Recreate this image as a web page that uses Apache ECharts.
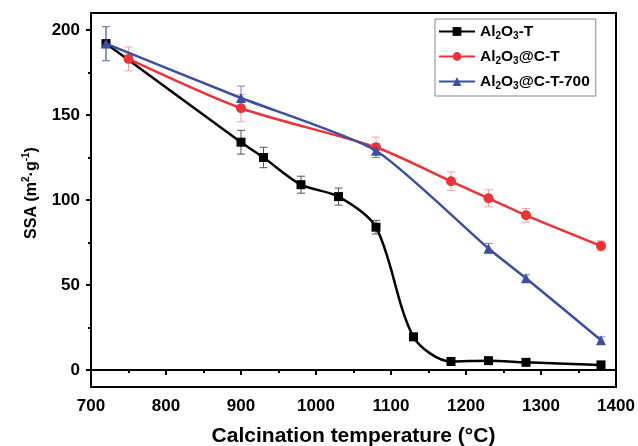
<!DOCTYPE html>
<html><head><meta charset="utf-8">
<script src="https://cdn.jsdelivr.net/npm/echarts@6/dist/echarts.min.js"></script>
<style>html,body{margin:0;padding:0;background:#fff}#c{width:638px;height:446px}</style>
</head><body><div id="c"></div>
<script>
// ---- data ----
const seriesNames = ['Al2O3-T', 'Al2O3@C-T', 'Al2O3@C-T-700'];
const tempT = [720, 900, 930, 980, 1030, 1080, 1130, 1180, 1230, 1280, 1380];
const ssaT = [192, 134, 125, 109, 102, 84, 19.5, 5, 5.5, 4.5, 3];
const errT = [10, 7, 6, 5, 5, 4, 0, 0, 0, 0, 0];
const tempCT = [750, 900, 1080, 1180, 1230, 1280, 1380];
const ssaCT = [183, 154, 131, 111, 101, 91, 73];
const errCT = [7, 8, 6, 5.5, 5, 4, 3];
const tempCT700 = [720, 900, 1080, 1230, 1280, 1380];
const ssaCT700 = [192, 160, 129, 71.5, 54, 17.5];
const errCT700 = [10, 7, 4, 3, 2, 2];
const yMajor = [0, 50, 100, 150, 200];
const yMinor = [25, 75, 125, 175];

const F = '"Liberation Sans", Arial, Helvetica, sans-serif';
const colors = ['#000000', '#ec3338', '#3a4ea5'];
const errColors = ['#555555', '#f4a2a4', '#7585c8'];

function pairs(xs, ys) { return xs.map((x, i) => [x, ys[i]]); }

function errSeries(xs, ys, es, color) {
  return {
    type: 'custom', silent: true, z: 1,
    encode: { x: 0, y: [1, 2] },
    data: xs.map((x, i) => [x, ys[i] - es[i], ys[i] + es[i]]).filter(d => d[2] > d[1]),
    renderItem: function (params, api) {
      const x = api.value(0), lo = api.value(1), hi = api.value(2);
      const p1 = api.coord([x, lo]), p2 = api.coord([x, hi]);
      const w = 4, st = { stroke: color, lineWidth: 1 };
      return { type: 'group', children: [
        { type: 'line', shape: { x1: p1[0], y1: p1[1], x2: p2[0], y2: p2[1] }, style: st },
        { type: 'line', shape: { x1: p1[0] - w, y1: p1[1], x2: p1[0] + w, y2: p1[1] }, style: st },
        { type: 'line', shape: { x1: p2[0] - w, y1: p2[1], x2: p2[0] + w, y2: p2[1] }, style: st }
      ] };
    }
  };
}

const legendRich = {
  'Al2O3-T': '{b|Al}{s|2}{b|O}{s|3}{b|-T}',
  'Al2O3@C-T': '{b|Al}{s|2}{b|O}{s|3}{b|@C-T}',
  'Al2O3@C-T-700': '{b|Al}{s|2}{b|O}{s|3}{b|@C-T-700}'
};

const chart = echarts.init(document.getElementById('c'), null, { renderer: 'canvas' });
chart.setOption({
  animation: false,
  backgroundColor: '#fff',
  grid: { left: 91, right: 22, top: 13, bottom: 59, outerBoundsMode: 'none', containLabel: false,
          show: true, borderColor: '#000', borderWidth: 2, backgroundColor: 'transparent' },
  legend: {
    data: seriesNames, orient: 'vertical', left: 435, top: 19,
    itemWidth: 36, itemHeight: 11, itemGap: 6,
    padding: [3, 6, 5, 3],
    borderColor: '#888', borderWidth: 1, backgroundColor: '#fff',
    formatter: n => legendRich[n],
    textStyle: {
      rich: {
        b: { fontFamily: F, fontSize: 15.5, fontWeight: 'bold', color: '#000', lineHeight: 20 },
        s: { fontFamily: F, fontSize: 10, fontWeight: 'bold', color: '#000', lineHeight: 20, padding: [9, 0, 0, 0] }
      }
    }
  },
  xAxis: {
    type: 'value', min: 700, max: 1400, interval: 100,
    name: 'Calcination temperature (°C)', nameLocation: 'middle', nameGap: 39,
    nameTextStyle: { fontFamily: F, fontSize: 21, fontWeight: 'bold', color: '#000' },
    axisLine: { lineStyle: { color: '#000', width: 2 } },
    axisTick: { length: 5, lineStyle: { color: '#000', width: 2 } },
    minorTick: { show: true, splitNumber: 2, length: 3, lineStyle: { color: '#000', width: 2 } },
    axisLabel: { fontFamily: F, fontSize: 17, fontWeight: 'bold', color: '#000', margin: 11, formatter: v => String(v) },
    splitLine: { show: false }
  },
  yAxis: [{
    type: 'value', min: -10, max: 210,
    name: '{b|SSA (m}{p|2}{b|·g}{p|-1}{b|)}', nameLocation: 'middle', nameGap: 46,
    nameTextStyle: {
      padding: [0, 0, 0, 14],
      rich: {
        b: { fontFamily: F, fontSize: 16, fontWeight: 'bold', color: '#000', lineHeight: 22 },
        p: { fontFamily: F, fontSize: 10, fontWeight: 'bold', color: '#000', lineHeight: 22, padding: [0, 0, 9, 0] }
      }
    },
    axisLine: { lineStyle: { color: '#000', width: 2 } },
    axisTick: { customValues: yMajor, length: 5, lineStyle: { color: '#000', width: 2 } },
    axisLabel: { customValues: yMajor, fontFamily: F, fontSize: 17, fontWeight: 'bold', color: '#000', margin: 11 },
    splitLine: { show: false }
  }, {
    type: 'value', min: -10, max: 210, position: 'left',
    axisLine: { show: false },
    axisTick: { customValues: yMinor, length: 3, lineStyle: { color: '#000', width: 2 } },
    axisLabel: { show: false },
    splitLine: { show: false }
  }],
  series: [
    errSeries(tempT, ssaT, errT, errColors[0]),
    errSeries(tempCT, ssaCT, errCT, errColors[1]),
    errSeries(tempCT700, ssaCT700, errCT700, errColors[2]),
    {
      name: seriesNames[0], type: 'line', data: pairs(tempT, ssaT), z: 3,
      smooth: 0.3,
      symbol: 'rect', symbolSize: 9, showAllSymbol: true,
      lineStyle: { color: colors[0], width: 2.5 }, itemStyle: { color: colors[0] }
    },
    {
      name: seriesNames[1], type: 'line', data: pairs(tempCT, ssaCT), z: 4,
      smooth: 0.25,
      symbol: 'circle', symbolSize: 10, showAllSymbol: true,
      lineStyle: { color: colors[1], width: 2.5 }, itemStyle: { color: colors[1] }
    },
    {
      name: seriesNames[2], type: 'line', data: pairs(tempCT700, ssaCT700), z: 5,
      smooth: 0.2,
      symbol: 'triangle', symbolSize: 10, showAllSymbol: true,
      lineStyle: { color: colors[2], width: 2.5 }, itemStyle: { color: colors[2] }
    }
  ]
});
</script>
</body></html>
